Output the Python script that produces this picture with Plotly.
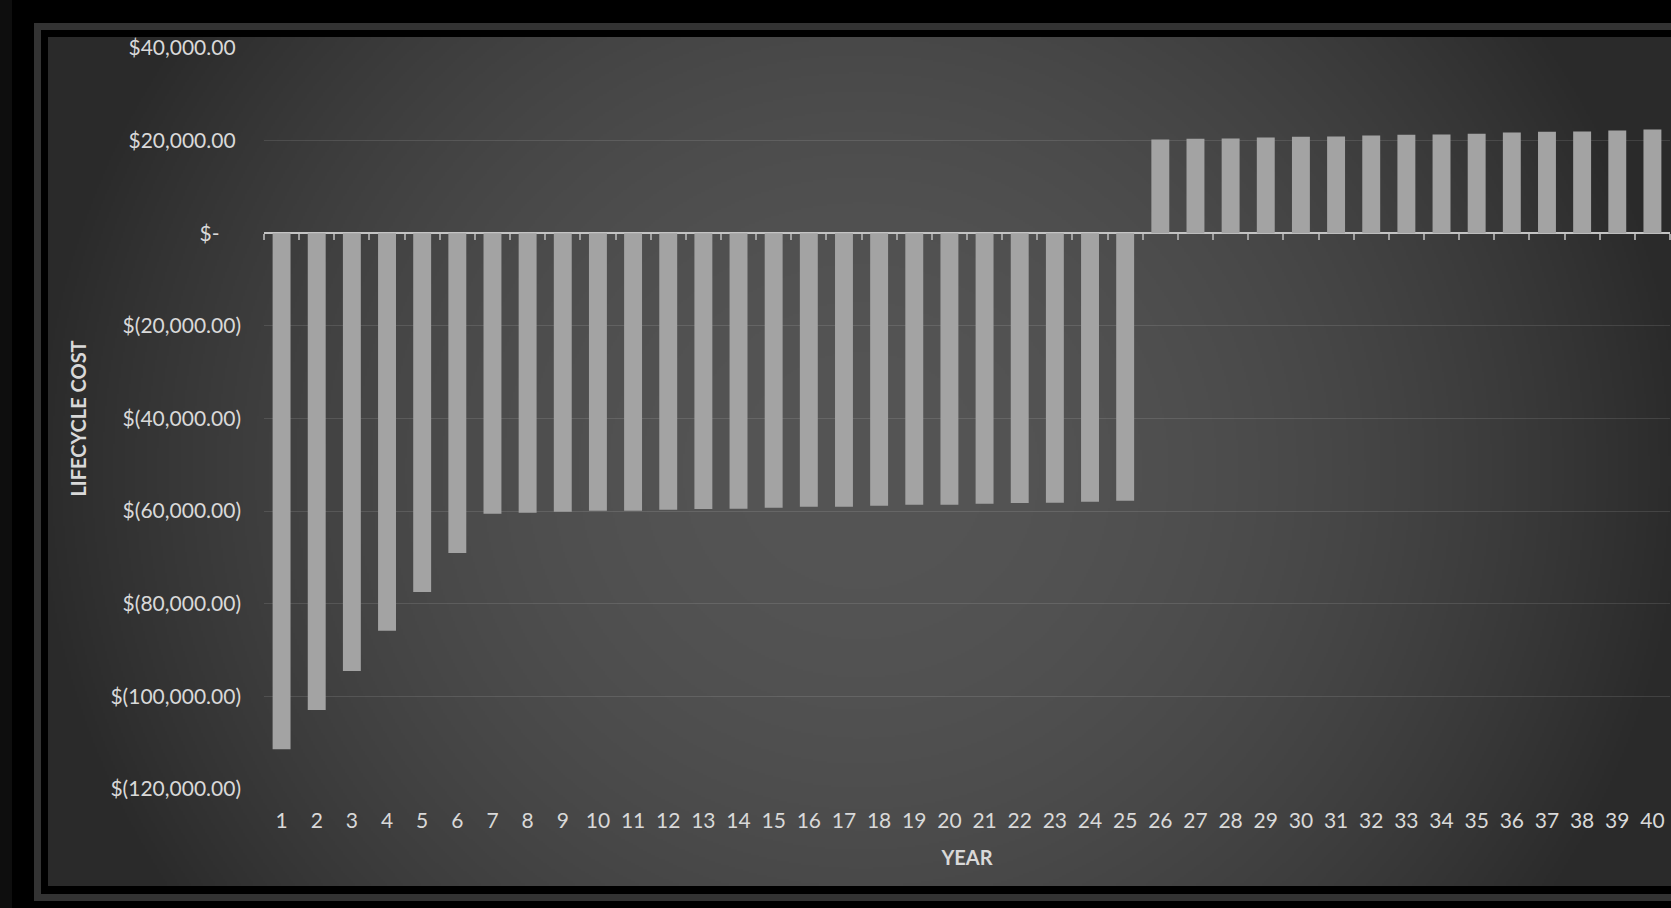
import base64
import struct
import zlib

import numpy as np
import plotly.graph_objects as go

# ---------------- data ----------------
years = list(range(1, 41))
lifecycle_cost = [
    -111400, -102950, -94540, -85830, -77470, -69050, -60580, -60360, -60140, -59930,
    -59900, -59710, -59520, -59480, -59280, -59080, -59040, -58850, -58650, -58610,
    -58420, -58220, -58180, -57980, -57770, 20220, 20420, 20440, 20650, 20850,
    20870, 21080, 21290, 21310, 21510, 21730, 21930, 21950, 22160, 22380,
]
y_tick_values = [40000, 20000, 0, -20000, -40000, -60000, -80000, -100000, -120000]
y_tick_labels = [
    "$40,000.00\u00a0", "$20,000.00\u00a0", "$-\u00a0\u00a0\u00a0\u00a0",
    "$(20,000.00)", "$(40,000.00)", "$(60,000.00)", "$(80,000.00)",
    "$(100,000.00)", "$(120,000.00)",
]
x_title = "YEAR"
y_title = "LIFECYCLE COST"

# ---------------- page geometry ----------------
W, H = 1671, 908
ML, MR, MT, MB = 264, 1, 48, 119
PW, PH = W - ML - MR, H - MT - MB


def px(x):
    return (x - ML) / PW


def py(y):
    return 1 - (y - MT) / PH


# ---------------- radial background image ----------------
def png_gray(arr):
    h, w = arr.shape
    raw = b"".join(b"\x00" + arr[i].tobytes() for i in range(h))

    def chunk(t, d):
        c = struct.pack(">I", len(d)) + t + d
        return c + struct.pack(">I", zlib.crc32(t + d) & 0xFFFFFFFF)

    return (b"\x89PNG\r\n\x1a\n"
            + chunk(b"IHDR", struct.pack(">IIBBBBB", w, h, 8, 0, 0, 0, 0))
            + chunk(b"IDAT", zlib.compress(raw, 9))
            + chunk(b"IEND", b""))


bx0, by0, bx1, by1 = 48, 37, 1671, 886
gx = np.arange(bx0, bx1, 2, dtype=float)
gy = np.arange(by0, by1, 2, dtype=float)
GX, GY = np.meshgrid(gx, gy)
r2 = ((GX - 860) / 820) ** 2 + ((GY - 470) / 780) ** 2
val = np.clip(85 - 42 * r2, 42, 85).astype(np.uint8)
bg_uri = "data:image/png;base64," + base64.b64encode(png_gray(val)).decode()

FONT = "Lato"
TXT = "#d9d9d9"

fig = go.Figure()
fig.add_trace(go.Bar(
    x=years, y=lifecycle_cost,
    marker=dict(color="#a3a3a3", line=dict(width=0)),
    showlegend=False, hoverinfo="x+y",
))
# invisible companion trace to host the boundary tick axis on the zero line
fig.add_trace(go.Scatter(
    x=years, y=lifecycle_cost, xaxis="x2", mode="none",
    showlegend=False, hoverinfo="skip",
))

fig.update_layout(
    width=W, height=H, autosize=False,
    margin=dict(l=ML, r=MR, t=MT, b=MB, pad=0),
    paper_bgcolor="#000000",
    plot_bgcolor="rgba(0,0,0,0)",
    bargap=0.49,
    font=dict(family=FONT, color=TXT, size=21),
    xaxis=dict(
        range=[0.5, 40.5], tickmode="linear", tick0=1, dtick=1,
        showgrid=False, zeroline=False, showline=False, ticks="",
        tickfont=dict(family=FONT, size=21, color=TXT),
        ticklabelstandoff=17,
        title=dict(text=x_title, font=dict(family=FONT, size=20, color=TXT, weight="bold"),
                   standoff=19),
    ),
    xaxis2=dict(
        overlaying="x", anchor="free", position=0.75, side="bottom",
        range=[0.5, 40.5], tickmode="linear", tick0=0.5, dtick=1,
        ticks="outside", ticklen=6, tickwidth=2, tickcolor="#a0a0a0",
        showticklabels=False, showgrid=False, zeroline=False, showline=False,
    ),
    yaxis=dict(
        range=[-120000, 40000], tickmode="array",
        tickvals=y_tick_values, ticktext=y_tick_labels,
        showgrid=True, gridcolor="rgba(255,255,255,0.11)", gridwidth=1,
        zeroline=True, zerolinecolor="#c4c4c4", zerolinewidth=2,
        showline=False, ticks="",
        tickfont=dict(family=FONT, size=21, color=TXT),
        ticklabelstandoff=22,
        title=dict(text=y_title, font=dict(family=FONT, size=20, color=TXT, weight="bold"),
                   standoff=18),
    ),
    images=[dict(
        source=bg_uri, xref="paper", yref="paper",
        x=px(bx0), y=py(by0), sizex=px(bx1) - px(bx0), sizey=py(by0) - py(by1),
        xanchor="left", yanchor="top", sizing="stretch", layer="below",
    )],
    shapes=[
        dict(type="rect", xref="paper", yref="paper", x0=px(0), x1=px(12), y0=py(0), y1=py(H),
             fillcolor="#0e0e0e", line=dict(width=0), layer="below"),
        dict(type="rect", xref="paper", yref="paper", x0=px(34), x1=px(W), y0=py(23), y1=py(30),
             fillcolor="#333333", line=dict(width=0), layer="below"),
        dict(type="rect", xref="paper", yref="paper", x0=px(34), x1=px(41), y0=py(23), y1=py(901),
             fillcolor="#333333", line=dict(width=0), layer="below"),
        dict(type="rect", xref="paper", yref="paper", x0=px(34), x1=px(W), y0=py(894), y1=py(901),
             fillcolor="#333333", line=dict(width=0), layer="below"),
    ],
)

fig.write_html("out.html", config={"displayModeBar": False})
